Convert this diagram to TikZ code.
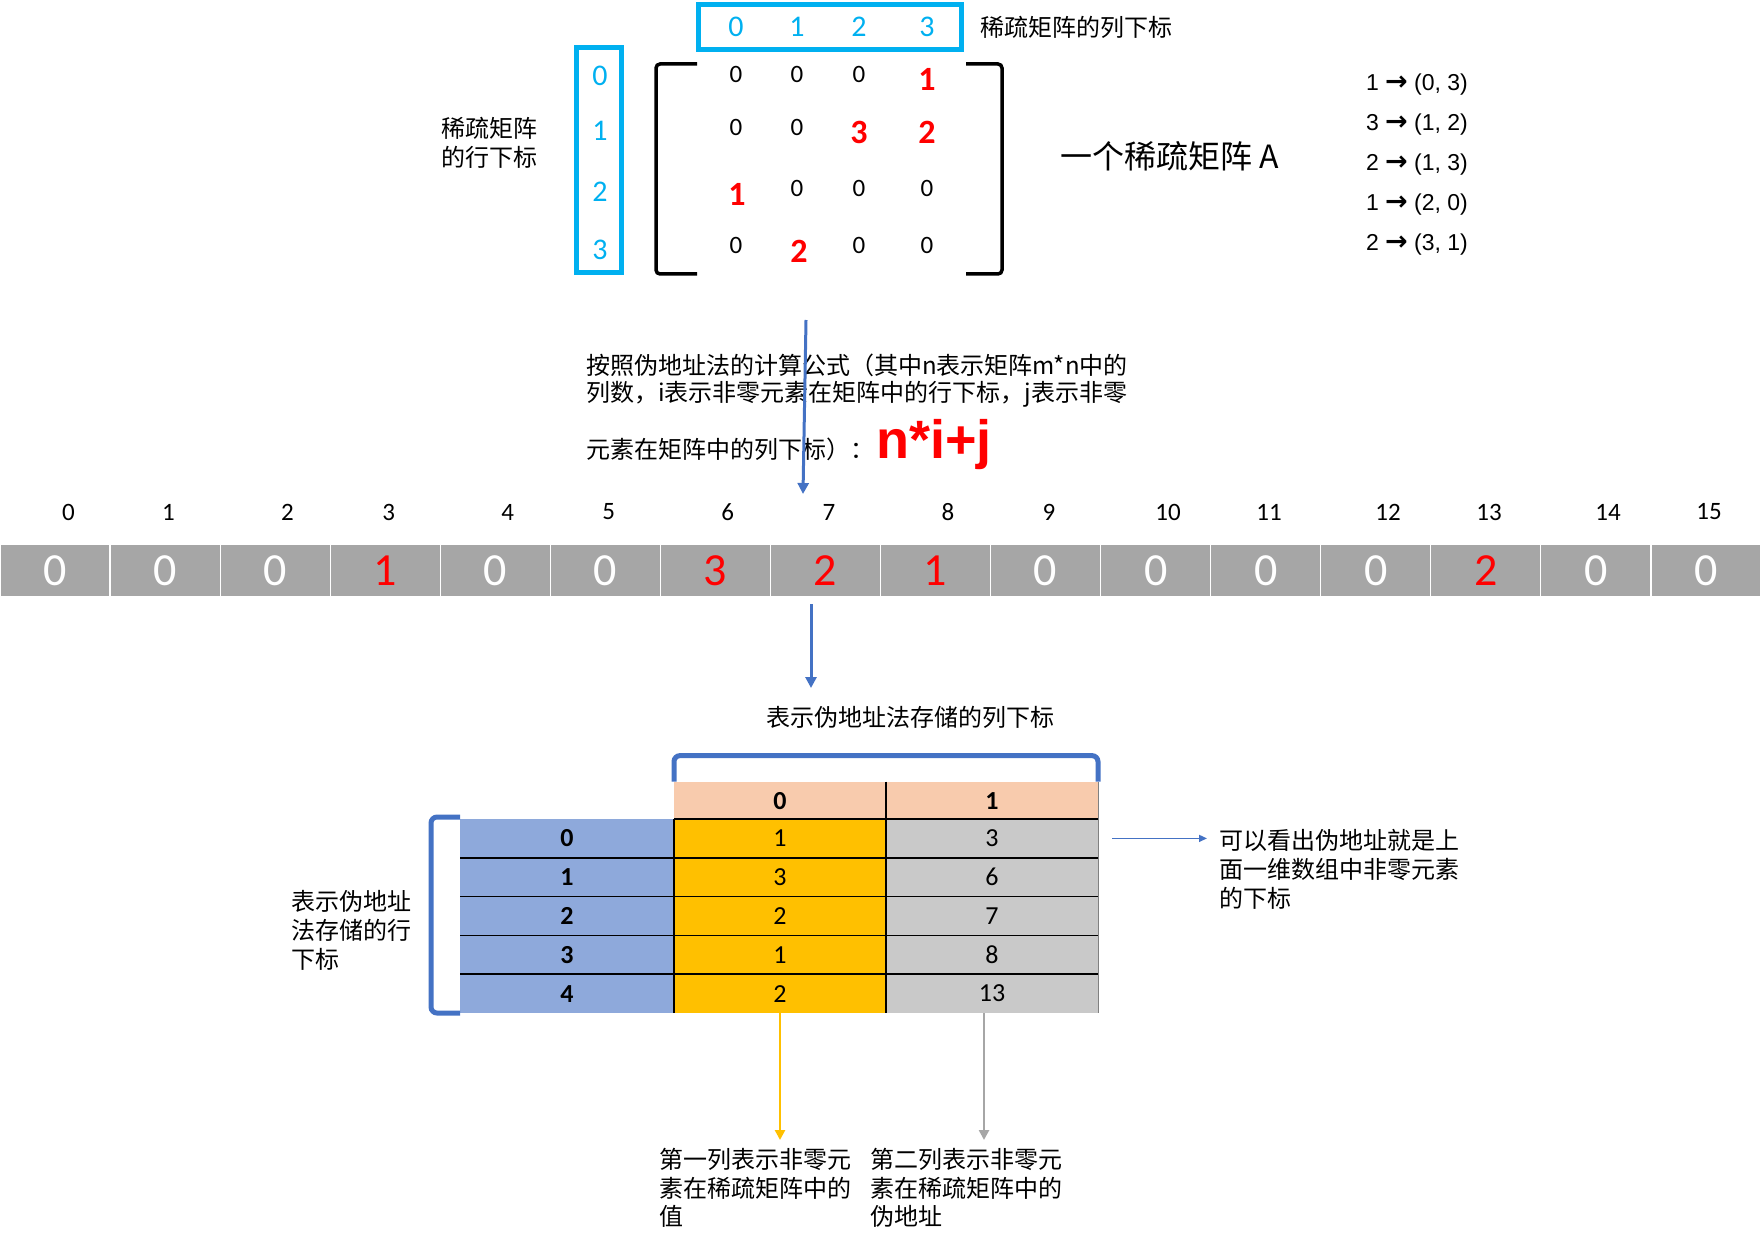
\documentclass[tikz,border=0pt]{standalone}
\usepackage{fontspec}
\setmainfont{Noto Sans CJK SC}
\newfontfamily\carl{Carlito}
\newfontfamily\arl{Liberation Sans}
\newfontfamily\dvs{DejaVu Sans}
\usetikzlibrary{arrows.meta}
\definecolor{cyanb}{HTML}{00B0F0}
\definecolor{blueA}{HTML}{4472C4}
\definecolor{redA}{HTML}{FF0000}
\definecolor{grayA}{HTML}{A6A6A6}
\definecolor{peach}{HTML}{F8CBAD}
\definecolor{rowblue}{HTML}{8EA9DB}
\definecolor{goldA}{HTML}{FFC000}
\definecolor{lgray}{HTML}{C9C9C9}
\newcommand{\rarr}{{\dvs\bfseries\fontsize{27}{27}\selectfont →}}
\begin{document}
\begin{tikzpicture}[x=1pt,y=-1pt,
  every node/.style={inner sep=0pt,outer sep=0pt},
  cjk/.style={font=\fontsize{24}{29}\selectfont,align=left},
  idx/.style={text=cyanb,font=\carl\fontsize{30}{30}\selectfont},
  mz/.style={font=\carl\fontsize{25}{25}\selectfont},
  mr/.style={text=redA,font=\carl\bfseries\fontsize{34}{34}\selectfont},
  lst/.style={anchor=west,font=\arl\fontsize{23}{23}\selectfont},
  num/.style={font=\carl\fontsize{25}{25}\selectfont},
  arr/.style={fill=grayA,draw=white,line width=1.2,minimum width=110.06,minimum height=53,font=\carl\fontsize{46}{46}\selectfont},
  cell/.style={minimum width=212,minimum height=38.8,font=\carl\fontsize{26}{26}\selectfont},
  bluearrow/.style={draw=blueA,line width=3,-{Triangle[length=11,width=11]}},
  brk/.style={draw=blueA,line width=5,rounded corners=6},
  mbr/.style={draw=black,line width=3.5,rounded corners=4},
  box/.style={draw=cyanb,line width=5}
]
\useasboundingbox (0,0) rectangle (1761,1246);

% ---------- top: sparse matrix ----------
\node[box,minimum width=263,minimum height=45] (colbox) at (830,27) {};
\node[idx] (ci0) at (736,27) {0};
\node[idx] (ci1) at (797,27) {1};
\node[idx] (ci2) at (859,27) {2};
\node[idx] (ci3) at (927,27) {3};
\node[cjk,anchor=west] (coltxt) at (980,27) {稀疏矩阵的列下标};

\node[box,minimum width=45,minimum height=225] (rowbox) at (599,160) {};
\node[idx] (ri0) at (600,76) {0};
\node[idx] (ri1) at (600,131) {1};
\node[idx] (ri2) at (600,192) {2};
\node[idx] (ri3) at (600,250) {3};
\node[cjk,anchor=west] (rowtxt) at (441,142.5) {稀疏矩阵\\的行下标};

\draw[mbr] (697,64) -- (656,64) -- (656,274) -- (697,274);
\draw[mbr] (966,64) -- (1002,64) -- (1002,274) -- (966,274);

\node[mz] (m00) at (736,74) {0};
\node[mz] (m01) at (797,74) {0};
\node[mz] (m02) at (859,74) {0};
\node[mr] (m03) at (927,79) {1};
\node[mz] (m10) at (736,127) {0};
\node[mz] (m11) at (797,127) {0};
\node[mr] (m12) at (859,132) {3};
\node[mr] (m13) at (927,132) {2};
\node[mr] (m20) at (737,194) {1};
\node[mz] (m21) at (797,188) {0};
\node[mz] (m22) at (859,188) {0};
\node[mz] (m23) at (927,188) {0};
\node[mz] (m30) at (736,245) {0};
\node[mr] (m31) at (799,251) {2};
\node[mz] (m32) at (859,245) {0};
\node[mz] (m33) at (927,245) {0};

\node[anchor=west,font=\fontsize{32}{32}\selectfont] (title) at (1060,156) {一个稀疏矩阵 A};

\node[lst] (p1) at (1366,85) {1 \rarr{} (0, 3)};
\node[lst] (p2) at (1366,125) {3 \rarr{} (1, 2)};
\node[lst] (p3) at (1366,165) {2 \rarr{} (1, 3)};
\node[lst] (p4) at (1366,205) {1 \rarr{} (2, 0)};
\node[lst] (p5) at (1366,245) {2 \rarr{} (3, 1)};

% ---------- middle: formula ----------
\coordinate (mt1) at (806,320);
\coordinate (mt2) at (803,494);
\node[cjk,anchor=west] (t1) at (586,365) {按照伪地址法的计算公式（其中n表示矩阵m*n中的};
\node[cjk,anchor=west] (t2) at (586,394) {列数，i表示非零元素在矩阵中的行下标，j表示非零};
\node[cjk,anchor=west] (t3) at (586,449) {元素在矩阵中的列下标）：};
\node[anchor=base west,text=redA,font=\arl\bfseries\fontsize{54}{54}\selectfont] (formula) at ([xshift=2]t3.base east) {n*i+j};
\draw[bluearrow] (mt1) -- (mt2);

% ---------- one-dimensional array ----------
\foreach \x [count=\i from 0] in {68.5,168.5,287.5,388.6,507.6,608.7,727.8,828.9,947.9,1049,1168,1269,1388,1489,1608,1709}
  \node[num] (l\i) at (\x,512) {\i};
\foreach \v/\c [count=\i from 0] in {0/white,0/white,0/white,1/redA,0/white,0/white,3/redA,2/redA,1/redA,0/white,0/white,0/white,0/white,2/redA,0/white,0/white}
  \node[arr,text=\c] (s\i) at ({\i*110.0625+55.03},570.5) {\v};

\coordinate (lw1) at (811,604);
\coordinate (lw2) at (811,688);
\draw[bluearrow] (lw1) -- (lw2);

% ---------- table ----------
\node[cjk,anchor=center] (coltitle) at (910,717) {表示伪地址法存储的列下标};

\node[cell,fill=peach,font=\carl\bfseries\fontsize{26}{26}\selectfont] (h0) at (780,801) {0};
\node[cell,fill=peach,font=\carl\bfseries\fontsize{26}{26}\selectfont] (h1) at (992,801) {1};
\foreach \k/\a/\b [count=\i from 0] in {0/1/3,1/3/6,2/2/7,3/1/8,4/2/13}{
  \node[cell,fill=rowblue,minimum width=214,font=\carl\bfseries\fontsize{26}{26}\selectfont] (k\i) at (567,{838.4+\i*38.8}) {\k};
  \node[cell,fill=goldA] (a\i) at (780,{838.4+\i*38.8}) {\a};
  \node[cell,fill=lgray] (b\i) at (992,{838.4+\i*38.8}) {\b};
}
\draw[black,line width=1.5] (a0.north west) -- (b0.north east);
\foreach \i in {1,2,3,4}
  \draw[black,line width=1.5] (k\i.north west) -- (b\i.north east);
\draw[black,line width=1.5] (a0.north west) -- (a4.south west);
\draw[black,line width=1.5] (h1.north west) -- (b4.south west);
\draw[gray,line width=1] (h1.north east) -- (b4.south east);

\draw[brk] (h0.north west) -- ++(0,-26) -| (h1.north east);
\draw[brk] ([yshift=2]k0.north west) -- ++(-29,0) |- (k4.south west);

\node[cjk,anchor=west] (rowtitle) at (291,930) {表示伪地址\\法存储的行\\下标};

\coordinate (rs) at ([xshift=14]b0.east);
\coordinate (ra) at ([xshift=109]b0.east);
\draw[draw=blueA,line width=1.5,-{Triangle[length=8,width=7]}] (rs) -- (ra);
\node[cjk,anchor=west] (note) at (1219,869) {可以看出伪地址就是上\\面一维数组中非零元素\\的下标};

\coordinate (ya) at (780,1140);
\coordinate (ga) at (984,1140);
\draw[draw=goldA,line width=2.5,-{Triangle[length=10,width=10]}] (a4.south) -- (ya);
\draw[draw=grayA,line width=2.5,-{Triangle[length=10,width=10]}] ([xshift=-8]b4.south) -- (ga);

\node[cjk,anchor=west,font=\fontsize{24}{28.5}\selectfont] (bt1) at (659,1188) {第一列表示非零元\\素在稀疏矩阵中的\\值};
\node[cjk,anchor=west,font=\fontsize{24}{28.5}\selectfont] (bt2) at (870,1188) {第二列表示非零元\\素在稀疏矩阵中的\\伪地址};
\end{tikzpicture}
\end{document}
